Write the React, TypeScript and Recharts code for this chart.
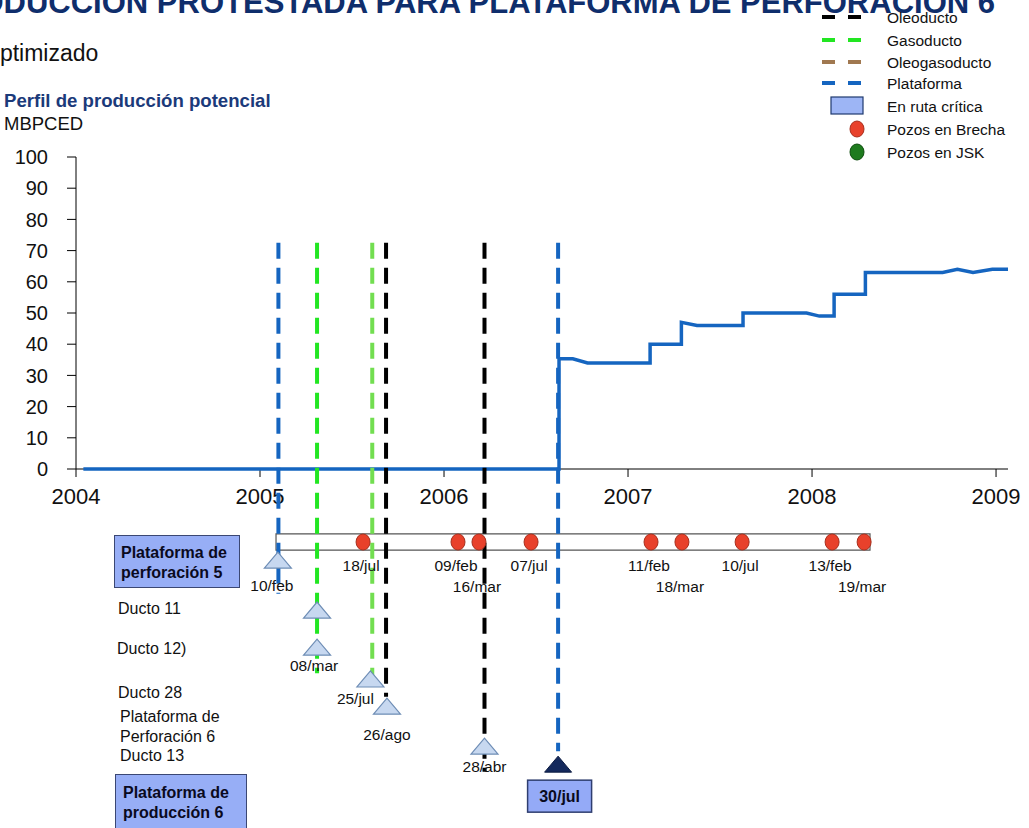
import {
  ComposedChart,
  Line,
  Scatter,
  XAxis,
  YAxis,
  ReferenceLine,
  ReferenceArea,
  Legend,
} from 'recharts'

const FONT = '"Liberation Sans", Arial, Helvetica, sans-serif'

// perfil de producción potencial, MBPCED, fecha en años decimales
const prodYears = [
  2004.04, 2006.625, 2006.625, 2006.7, 2006.78, 2007.12, 2007.12, 2007.29, 2007.29,
  2007.375, 2007.625, 2007.625, 2007.97, 2008.04, 2008.12, 2008.12, 2008.29, 2008.29,
  2008.71, 2008.79, 2008.875, 2008.98, 2009.065,
]
const prodValues = [
  0, 0, 35.3, 35.3, 34, 34, 40, 40, 47, 46, 46, 50, 50, 49, 49, 56, 56, 63, 63, 64, 63, 64, 64,
]

const yearTicks = [2004, 2005, 2006, 2007, 2008, 2009]
const valueTicks = [0, 10, 20, 30, 40, 50, 60, 70, 80, 90, 100]

// trazos de la ruta crítica (líneas verticales)
const rutaFechas = [2005.1, 2005.31, 2005.61, 2005.685, 2006.22, 2006.62]
const rutaTipos = ['Plataforma', 'Gasoducto', 'Gasoducto', 'Oleoducto', 'Oleoducto', 'Plataforma']
const rutaFin = [-40, -65.5, -68, -73, -97, -90.5]
const rutaTope = 72.5

// pozos en brecha sobre la barra
const pozosFechas = [2005.56, 2006.076, 2006.19, 2006.473, 2007.125, 2007.293, 2007.62, 2008.109, 2008.283]
const pozosEtiquetas = ['18/jul', '09/feb', '16/mar', '07/jul', '11/feb', '18/mar', '10/jul', '13/feb', '19/mar']
const pozosNivel = [0, 0, 1, 0, 0, 1, 0, 0, 1]
const barraInicio = 2005.087
const barraFin = 2008.315

// hitos (triángulos) por carril
const hitosFechas = [2005.097, 2005.31, 2005.31, 2005.6, 2005.69, 2006.22, 2006.62]
const hitosCarril = [-29.2, -45.2, -57.1, -67.3, -76, -88.8, -94.6]
const hitosEtiquetas = ['10/feb', '', '08/mar', '25/jul', '26/ago', '28/abr', '30/jul']
const hitosCriticos = [false, false, false, false, false, false, true]

const lineColors: Record<string, string> = {
  Oleoducto: '#000000',
  Gasoducto: '#22E622',
  Oleogasoducto: '#A07850',
  Plataforma: '#1565C0',
}
const rutaColors = ['#1565C0', '#22E622', '#72DE50', '#000000', '#000000', '#1565C0']

const labelShift: Record<string, [number, number]> = {
  '10/feb': [-6, 25],
  '08/mar': [-3, 18],
  '25/jul': [-15, 20],
  '26/ago': [0, 28],
  '28/abr': [0, 20],
}

const prodData = prodYears.map((x, i) => ({ x, v: prodValues[i] }))
const pozosData = pozosFechas.map((x, i) => ({ x, y: -23.4, etiqueta: pozosEtiquetas[i], nivel: pozosNivel[i] }))
const hitosData = hitosFechas.map((x, i) => ({
  x,
  y: hitosCarril[i],
  etiqueta: hitosEtiquetas[i],
  critico: hitosCriticos[i],
}))

function PozoShape(props: any) {
  const { cx, cy, payload } = props
  return (
    <g>
      <ellipse cx={cx} cy={cy} rx={7} ry={8} fill="#E8412B" stroke="#A8301E" strokeWidth={1} />
      <text
        x={cx - 2}
        y={cy + (payload.nivel ? 44 : 23)}
        textAnchor="middle"
        dominantBaseline="central"
        fontSize={15.5}
        fontFamily={FONT}
        fill="#111"
      >
        {payload.etiqueta}
      </text>
    </g>
  )
}

function HitoShape(props: any) {
  const { cx, cy, payload } = props
  const w = 27
  const h = 16
  const pts = `${cx - w / 2},${cy + h / 2} ${cx + w / 2},${cy + h / 2} ${cx},${cy - h / 2}`
  if (payload.critico) {
    return (
      <g>
        <polygon points={pts} fill="#14295C" stroke="#0B1A40" strokeWidth={1} />
        <rect x={cx - 30.5} y={cy + 16} width={64} height={32} fill="#94AAF7" stroke="#2F3E6F" strokeWidth={1.5} />
        <text
          x={cx + 1.5}
          y={cy + 32}
          textAnchor="middle"
          dominantBaseline="central"
          fontSize={16}
          fontWeight="bold"
          fontFamily={FONT}
          fill="#0A0A1E"
        >
          {payload.etiqueta}
        </text>
      </g>
    )
  }
  const [dx, dy] = labelShift[payload.etiqueta] ?? [0, 22]
  return (
    <g>
      <polygon points={pts} fill="#C7D8F0" stroke="#6E8DB5" strokeWidth={1.2} />
      {payload.etiqueta ? (
        <text
          x={cx + dx}
          y={cy + dy}
          textAnchor="middle"
          dominantBaseline="central"
          fontSize={15.5}
          fontFamily={FONT}
          fill="#111"
        >
          {payload.etiqueta}
        </text>
      ) : null}
    </g>
  )
}

const legendRows = ['Oleoducto', 'Gasoducto', 'Oleogasoducto', 'Plataforma', 'En ruta crítica', 'Pozos en Brecha', 'Pozos en JSK']

function LegendBox() {
  const rowY = [17, 40, 62, 83, 106, 129, 152]
  return (
    <svg width={214} height={165} style={{ display: 'block' }}>
      {legendRows.map((name, i) => {
        const y = rowY[i]
        let swatch = null
        if (i < 4) {
          swatch = (
            <line x1={7} x2={48} y1={y} y2={y} stroke={lineColors[name]} strokeWidth={4} strokeDasharray="13 13" />
          )
        } else if (i === 4) {
          swatch = <rect x={16} y={y - 9} width={32} height={17} fill="#9DB5F5" stroke="#1F3A6E" strokeWidth={1.2} />
        } else {
          swatch = (
            <ellipse
              cx={42}
              cy={y}
              rx={7}
              ry={8}
              fill={i === 5 ? '#E8412B' : '#1E7B1E'}
              stroke={i === 5 ? '#A8301E' : '#0F4F0F'}
            />
          )
        }
        return (
          <g key={name}>
            {swatch}
            <text x={72} y={y} dominantBaseline="central" fontSize={15.5} fontFamily={FONT} fill="#111">
              {name}
            </text>
          </g>
        )
      })}
    </svg>
  )
}

const boxStyle: React.CSSProperties = {
  position: 'absolute',
  background: '#97AEF6',
  border: '1.5px solid #3B4773',
  boxSizing: 'border-box',
  fontWeight: 'bold',
  fontSize: 16,
  lineHeight: '20px',
  color: '#0A0A1E',
}

const plainLabel = (top: number, left: number, text: string) => (
  <div
    style={{
      position: 'absolute',
      top: top - 10,
      left,
      fontSize: 16,
      lineHeight: '20px',
      color: '#111',
      whiteSpace: 'nowrap',
    }}
  >
    {text}
  </div>
)

export default function App() {
  return (
    <div
      style={{
        position: 'absolute',
        left: 0,
        top: 0,
        width: 1029,
        height: 828,
        overflow: 'hidden',
        background: '#fff',
        fontFamily: FONT,
      }}
    >
      <svg width={1029} height={140} style={{ position: 'absolute', left: 0, top: 0 }}>
        <text x={995} y={12.5} textAnchor="end" fontSize={31} fontWeight="bold" fill="#0F2E6C" fontFamily={FONT}>
          PRODUCCIÓN PROTESTADA PARA PLATAFORMA DE PERFORACIÓN 6
        </text>
        <text x={-18} y={61} fontSize={23} fill="#111" fontFamily={FONT}>
          Optimizado
        </text>
        <text x={4} y={107} fontSize={18.6} fontWeight="bold" fill="#1B3A7A" fontFamily={FONT}>
          Perfil de producción potencial
        </text>
        <text x={4} y={130} fontSize={18.5} fill="#111" fontFamily={FONT}>
          MBPCED
        </text>
      </svg>

      {/* ejes: la serie visible se dibuja en la capa de arriba para quedar sobre el eje */}
      <div style={{ position: 'absolute', left: 0, top: 0 }}>
        <ComposedChart width={1029} height={520} data={prodData} margin={{ top: 157, right: 21, left: 6, bottom: 11 }}>
          <XAxis
            dataKey="x"
            type="number"
            domain={[2004, 2009.065]}
            ticks={yearTicks}
            allowDataOverflow
            height={40}
            tickSize={8}
            tickMargin={11}
            stroke="#000"
            tick={{ fontSize: 22, fill: '#111', fontFamily: FONT }}
          />
          <YAxis
            dataKey="v"
            type="number"
            domain={[0, 100]}
            ticks={valueTicks}
            width={70}
            tickSize={9}
            tickMargin={19}
            stroke="#000"
            tick={{ fontSize: 20, fill: '#111', fontFamily: FONT }}
          />
          <Legend
            layout="vertical"
            align="center"
            verticalAlign="middle"
            content={() => <LegendBox />}
            wrapperStyle={{ left: 815, top: 0, width: 214, height: 165 }}
          />
          <Line
            dataKey="v"
            type="linear"
            stroke="none"
            dot={false}
            legendType="none"
            isAnimationActive={false}
          />
        </ComposedChart>
      </div>

      <div style={{ position: 'absolute', left: 0, top: 0 }}>
        <ComposedChart width={1029} height={828} margin={{ top: 157, right: 21, left: 76, bottom: 0 }}>
          <XAxis dataKey="x" type="number" domain={[2004, 2009.065]} allowDataOverflow hide />
          <YAxis dataKey="y" type="number" domain={[-115.06, 100]} allowDataOverflow hide />
          <ReferenceArea
            x1={barraInicio}
            x2={barraFin}
            y1={-26}
            y2={-20.8}
            fill="#fff"
            fillOpacity={1}
            stroke="#555"
            strokeWidth={1.2}
          />
          <Line
            data={prodData}
            dataKey="v"
            type="linear"
            stroke="#1565C0"
            strokeWidth={3.5}
            dot={false}
            isAnimationActive={false}
          />
          {rutaFechas.map((d, i) => (
            <ReferenceLine
              key={`ruta-${i}`}
              segment={[
                { x: d, y: rutaTope },
                { x: d, y: rutaFin[i] },
              ]}
              stroke={rutaColors[i] ?? lineColors[rutaTipos[i]]}
              strokeWidth={4}
              strokeDasharray="16 9"
            />
          ))}
          <Scatter data={pozosData} shape={<PozoShape />} isAnimationActive={false} />
          <Scatter data={hitosData} shape={<HitoShape />} isAnimationActive={false} />
        </ComposedChart>
      </div>

      <div style={{ ...boxStyle, left: 114, top: 535, width: 126, height: 53, padding: '7px 0 0 6px' }}>
        Plataforma de
        <br />
        perforación 5
      </div>
      {plainLabel(609, 118, 'Ducto 11')}
      {plainLabel(649, 117, 'Ducto 12)')}
      {plainLabel(693, 118, 'Ducto 28')}
      {plainLabel(717, 120, 'Plataforma de')}
      {plainLabel(737, 120, 'Perforación 6')}
      {plainLabel(756, 120, 'Ducto 13')}
      <div style={{ ...boxStyle, left: 115, top: 774, width: 132, height: 70, padding: '8px 0 0 7px' }}>
        Plataforma de
        <br />
        producción 6
      </div>
    </div>
  )
}
